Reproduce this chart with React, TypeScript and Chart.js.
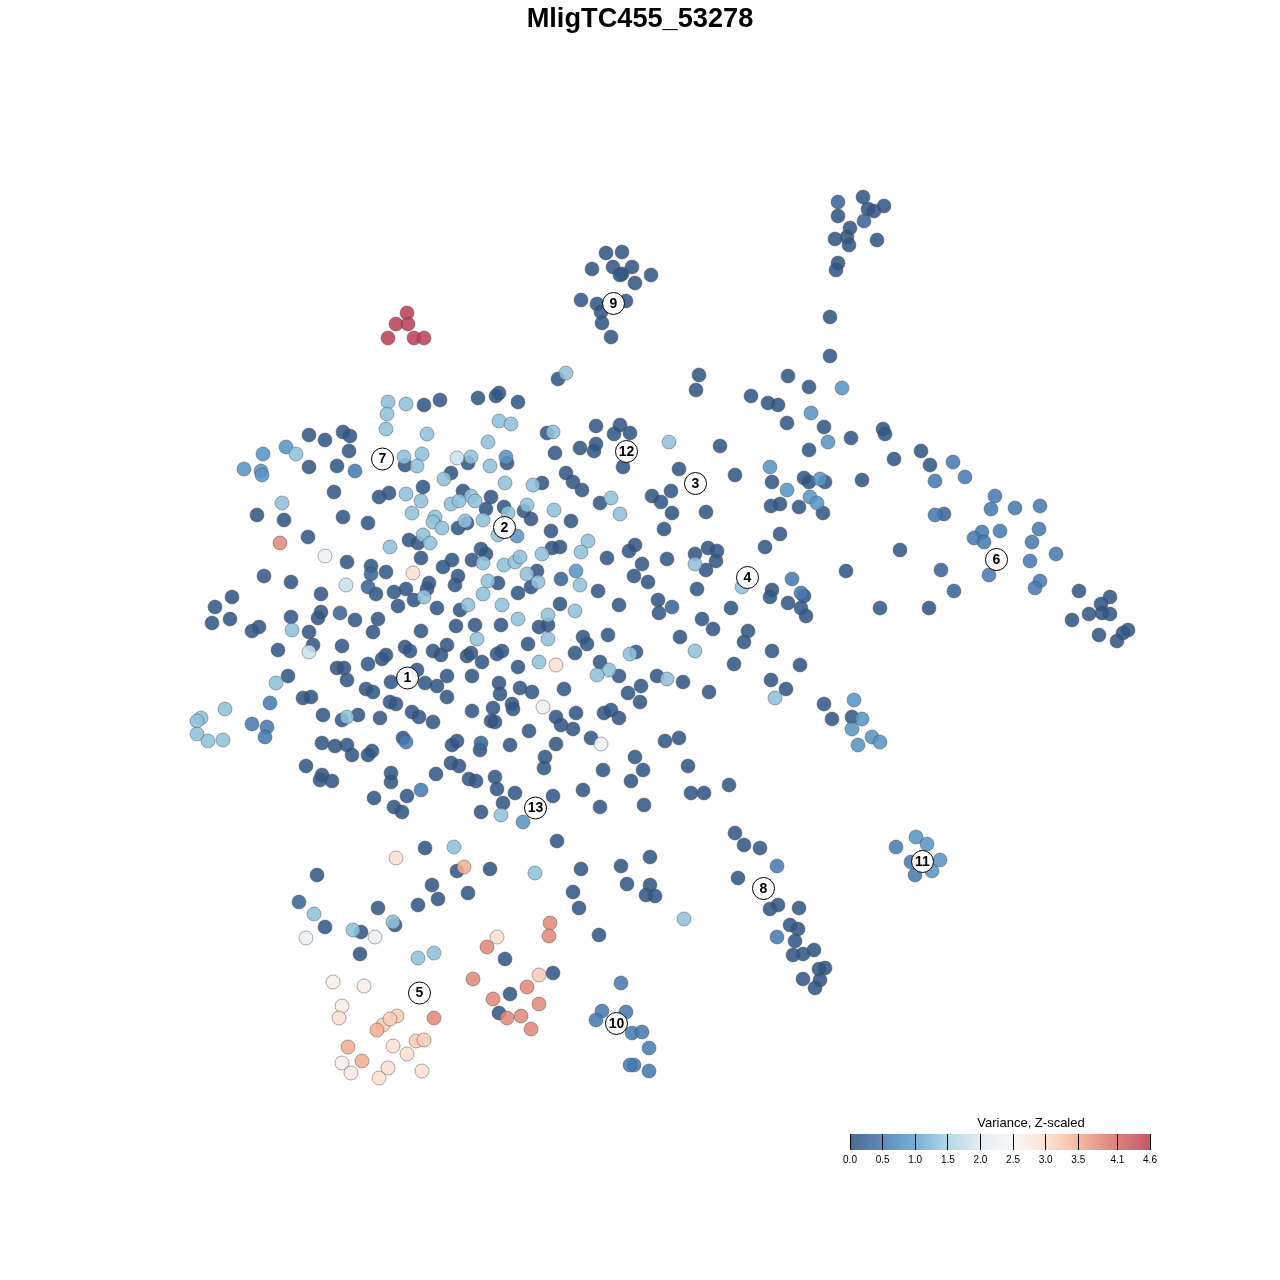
import React, { useEffect, useRef } from "react";
import { Chart, registerables } from "chart.js";

Chart.register(...registerables);

const chartTitle = "MligTC455_53278";
const legendTitle = "Variance, Z-scaled";
const legendTicks = [0, 0.5, 1.0, 1.5, 2.0, 2.5, 3.0, 3.5, 4.1, 4.6];
const legendColors = ["#4a6b92", "#5d8cbe", "#77b0d5", "#b5d8e8", "#e4edf4", "#f7f7f7", "#fde3d5", "#f5b9a0", "#dc807b", "#c4596a"];

// [x, y] readings of the embedding, grouped by their variance value
const value002 = [
  [863,197],[884,206],[868,209],[874,211],[838,216],[850,228],[847,237],[835,239],[849,245],[877,240],[838,263],[836,270],[830,317],[830,356],
  [606,253],[622,252],[592,269],[613,267],[622,274],[632,267],[620,275],[651,275],[635,283],[581,300],[597,304],[626,301],[601,312],[602,323],[611,337],
  [699,375],[696,390],[788,376],[809,387],[751,396],[768,403],[778,405],[787,423],[824,427],[851,438],[883,429],[885,434],[720,446],[809,450],[921,451],[894,459],[930,465],[772,482],[735,475],[804,478],[809,482],[825,482],[862,480],[780,504],[771,506],[799,507],[823,513],[706,512],[780,534],[765,547],[900,550],[695,554],[708,548],[717,551],[716,561],[706,570],[846,571],[1079,591],[772,590],[770,597],[697,589],[804,596],[788,603],[801,608],[806,616],[731,608],[880,608],[929,608],[1110,597],[1101,604],[1102,613],[1110,614],[1089,614],[1072,620],[1099,635],[1128,630],[1123,633],[1117,641],[702,619],[713,629],[748,631],[744,642],[772,651],[734,664],[800,665],[771,680],[786,689],[709,692],[824,704],[832,719],[852,717],
  [424,405],[440,400],[478,398],[496,396],[499,393],[518,402],[558,379],[547,433],[596,426],[620,425],[614,434],[630,433],[405,465],[468,463],[507,463],[451,473],[542,483],[555,453],[580,448],[594,451],[596,444],[623,467],[566,473],[573,482],[582,490],[679,469],[671,491],[652,496],[661,502],[672,513],[664,529],[600,503],[423,487],[463,491],[491,497],[486,509],[504,507],[524,511],[531,519],[571,521],[467,523],[458,528],[551,531],[409,540],[418,543],[421,558],[552,548],[560,547],[481,549],[486,554],[472,560],[452,560],[443,567],[607,558],[635,545],[629,551],[642,564],[634,576],[648,582],[667,559],[458,576],[455,585],[429,583],[427,589],[406,589],[414,600],[398,606],[437,608],[460,610],[498,583],[537,571],[531,587],[518,593],[598,591],[619,605],[658,600],[659,613],[680,637],[560,604],[548,625],[539,627],[501,625],[475,625],[456,626],[421,631],[528,644],[583,637],[587,644],[608,635],[575,653],[600,662],[619,676],[636,652],[657,676],[683,682],[641,686],[628,693],[640,702],[405,647],[410,651],[433,651],[441,655],[447,645],[467,656],[471,653],[497,654],[502,651],[482,662],[518,667],[447,676],[472,676],[499,683],[500,694],[520,688],[532,692],[564,689],[512,704],[513,709],[447,697],[437,686],[425,683],[417,670],[472,711],[493,708],
  [309,435],[325,440],[343,432],[350,436],[349,451],[309,467],[337,466],[334,492],[389,493],[379,497],[257,515],[284,520],[343,517],[368,523],[308,537],[347,562],[371,566],[386,572],[264,576],[291,582],[376,594],[321,594],[232,597],[215,607],[230,619],[212,623],[259,627],[252,631],[291,617],[321,612],[318,618],[355,620],[378,619],[373,632],[309,632],[313,645],[278,650],[342,646],[394,592],[382,659],[386,655],[368,664],[337,668],[344,668],[347,680],[366,689],[373,692],[391,682],[288,676],[303,698],[311,697],[390,702],[396,704],[323,715],[342,720],[358,715],[380,718],[412,712],[419,717],[433,722],[491,721],[495,722],[403,738],[322,743],[335,746],[347,745],[352,755],[372,751],[368,755],[452,745],[457,741],[480,750],[510,745],[306,766],[322,775],[320,780],[332,781],[391,773],[391,782],[436,774],[451,763],[459,766],[469,779],[476,781],[495,777],[497,789],[407,796],[374,798],[394,807],[402,812],[481,812],[503,803],
  [556,717],[561,725],[573,729],[604,713],[611,710],[619,718],[576,713],[591,738],[529,731],[556,744],[545,757],[544,768],[635,757],[665,741],[679,738],[643,770],[631,781],[603,770],[688,766],[729,785],[691,793],[704,793],[583,790],[553,796],[515,793],[644,805],[600,807],[557,841],[425,848],[457,871],[490,869],[317,875],[432,885],[468,893],[438,899],[418,905],[378,908],[325,927],[361,932],[395,925],[360,954],[581,869],[621,866],[650,857],[627,884],[650,885],[646,895],[655,896],[573,892],[579,908],[599,935],[505,959],[553,973],[510,994],[499,1013],
  [735,833],[744,845],[760,848],[738,878],[778,905],[770,909],[799,908],[790,925],[798,929],[795,941],[814,950],[803,954],[793,955],[825,968],[819,969],[803,979],[820,980],[815,988],
];
const value020 = [[838,202],[864,221],[371,574],[340,613],[481,743],[561,579],[672,607],[299,902],[368,587],[944,514],[941,570],[954,591]];
const value048 = [[953,462],[965,477],[935,481],[995,496],[991,509],[1015,508],[1040,506],[935,515],[1000,531],[1039,529],[982,532],[974,538],[984,542],[1032,542],[1056,554],[1030,561],[989,575],[1040,581],[1035,588],[792,579],[801,593],[355,471],[270,703],[252,724],[267,727],[265,737],[421,790],[406,742],[777,866],[777,937],[896,847],[915,875],[911,862],[621,983],[602,1011],[596,1020],[626,1012],[632,1033],[642,1032],[649,1048],[634,1065],[630,1065],[649,1071]];
const value080 = [[842,388],[811,413],[828,442],[770,467],[820,479],[787,490],[810,497],[817,503],[854,700],[862,719],[852,729],[872,737],[880,742],[858,745],[506,457],[517,536],[576,571],[286,447],[263,454],[244,469],[261,471],[262,475],[523,822],[916,837],[927,844],[940,860],[932,871]];
const value130 = [[695,564],[742,587],[695,651],[775,698],[566,373],[388,402],[387,414],[386,429],[406,404],[499,421],[511,424],[427,434],[488,442],[553,432],[669,442],[404,457],[422,454],[417,466],[471,457],[490,466],[444,479],[505,483],[533,485],[611,498],[620,514],[406,494],[421,501],[412,513],[471,496],[451,504],[459,501],[475,501],[508,513],[527,505],[554,510],[483,520],[435,517],[433,522],[442,528],[465,521],[498,535],[423,535],[430,543],[588,541],[581,552],[542,554],[483,563],[504,565],[515,562],[520,557],[424,597],[468,605],[483,594],[488,581],[527,574],[538,582],[580,585],[502,605],[575,611],[548,615],[518,619],[477,639],[548,639],[609,670],[597,675],[630,654],[667,679],[539,662],[296,454],[282,503],[390,547],[292,630],[276,683],[347,717],[201,718],[197,721],[225,709],[197,734],[208,741],[223,740],[501,815],[454,847],[535,873],[314,914],[353,930],[393,922],[418,958],[434,953],[684,919]];
const value180 = [[457,458],[346,585],[309,652]];
const value230 = [[325,556],[543,707],[601,744],[306,938],[375,937]];
const value270 = [[333,982],[364,986],[342,1006],[342,1063],[351,1073]];
const value295 = [[413,573],[556,665],[396,858],[497,937],[339,1018],[393,1046],[407,1054],[388,1068],[379,1078],[422,1071]];
const value320 = [[397,1016],[383,1025],[390,1019],[416,1041],[424,1040],[539,975]];
const value350 = [[464,867],[377,1030],[348,1047],[362,1061]];
const value385 = [[280,543],[550,923],[549,936],[487,947],[473,979],[527,987],[493,999],[539,1004],[507,1018],[521,1016],[531,1029],[434,1018]];
const value460 = [[407,313],[396,324],[408,324],[388,338],[414,338],[424,338]];
const levels = [0.02, 0.2, 0.48, 0.8, 1.3, 1.8, 2.3, 2.7, 2.95, 3.2, 3.5, 3.85, 4.6];
const groups = [value002, value020, value048, value080, value130, value180, value230, value270, value295, value320, value350, value385, value460];

const clusterNames = ["1","2","3","4","5","6","7","8","9","10","11","12","13"];
const clusterX = [407.5,504.5,695.5,747.5,419.5,996.5,382.5,763.5,613.5,616.5,922.5,626.5,535.5];
const clusterY = [678,527.5,483.5,577.5,993,559.5,459,888.5,303.5,1023.5,861.5,451.5,808];
const tinyMark = [[571,640]];

const hex = (h: string) => [1, 3, 5].map((i) => parseInt(h.slice(i, i + 2), 16));
const ALPHA = 0.88;
function pointColor(v: number) {
  let i = 0;
  while (i < legendTicks.length - 2 && v > legendTicks[i + 1]) i++;
  const t = (v - legendTicks[i]) / (legendTicks[i + 1] - legendTicks[i]);
  const a = hex(legendColors[i]);
  const b = hex(legendColors[i + 1]);
  const c = a.map((x, k) => {
    const mixed = x + (b[k] - x) * t;
    return Math.max(0, Math.round((mixed - 255 * (1 - ALPHA)) / ALPHA));
  });
  return `rgba(${c[0]},${c[1]},${c[2]},${ALPHA})`;
}

const TITLE_PAD = 3;
const TITLE_SIZE = 27.2;
const TITLE_H = TITLE_PAD + TITLE_SIZE * 1.2;

const clusterText = {
  id: "clusterText",
  afterDatasetsDraw(chart: any) {
    const { ctx, scales } = chart;
    ctx.save();
    ctx.font = 'bold 14px "Liberation Sans"';
    ctx.fillStyle = "#000";
    ctx.textAlign = "center";
    ctx.textBaseline = "middle";
    clusterNames.forEach((n, i) => {
      ctx.fillText(n, scales.x.getPixelForValue(clusterX[i]), scales.y.getPixelForValue(clusterY[i]) + 0.5);
    });
    ctx.restore();
  },
};

const legendLabel = {
  id: "legendLabel",
  afterDraw(chart: any) {
    const { ctx, chartArea } = chart;
    ctx.save();
    ctx.font = '13px "Liberation Sans"';
    ctx.fillStyle = "#000";
    ctx.textAlign = "center";
    ctx.textBaseline = "middle";
    ctx.fillText(legendTitle, (chartArea.left + chartArea.right) / 2 + 31, chartArea.top - 11);
    ctx.restore();
  },
};

export default function App() {
  const mainRef = useRef<HTMLCanvasElement>(null);
  const barRef = useRef<HTMLCanvasElement>(null);

  useEffect(() => {
    const datasets: any[] = groups.map((g, i) => ({
      label: String(levels[i]),
      data: g.map(([x, y]) => ({ x, y })),
      order: groups.length - i + 1,
      pointRadius: 7,
      pointBackgroundColor: pointColor(levels[i]),
      pointBorderColor: "rgba(70,70,70,0.45)",
      pointBorderWidth: 1,
      showLine: false,
    }));
    datasets.push({
      label: "tiny",
      data: tinyMark.map(([x, y]) => ({ x, y })),
      order: 1,
      pointRadius: 0.5,
      pointBorderWidth: 0,
      pointBackgroundColor: "#2166ac",
      showLine: false,
    });
    datasets.push({
      label: "clusters",
      data: clusterX.map((x, i) => ({ x, y: clusterY[i] })),
      order: 0,
      pointRadius: 11,
      pointBackgroundColor: "rgba(255,255,255,0.9)",
      pointBorderColor: "#000",
      pointBorderWidth: 1,
      showLine: false,
    });

    const main = new Chart(mainRef.current!, {
      type: "scatter",
      data: { datasets },
      plugins: [clusterText],
      options: {
        responsive: false,
        animation: false,
        layout: { padding: 0, autoPadding: false },
        plugins: {
          legend: { display: false },
          tooltip: { enabled: false },
          title: {
            display: true,
            text: chartTitle,
            color: "#000",
            font: { family: '"Liberation Sans"', size: TITLE_SIZE, weight: "bold", lineHeight: 1.2 },
            padding: { top: TITLE_PAD, bottom: 0 },
          },
        },
        scales: {
          x: { type: "linear", min: 0, max: 1280, display: false },
          y: { type: "linear", min: TITLE_H, max: 1280, reverse: true, display: false },
        },
      },
    } as any);

    const bar = new Chart(barRef.current!, {
      type: "bar",
      data: {
        labels: ["variance"],
        datasets: [{
          data: [[legendTicks[0], legendTicks[legendTicks.length - 1]]],
          barPercentage: 1,
          categoryPercentage: 1,
          backgroundColor: (c: any) => {
            const area = c.chart.chartArea;
            if (!area) return legendColors[0];
            const g = c.chart.ctx.createLinearGradient(area.left, 0, area.right, 0);
            const top = legendTicks[legendTicks.length - 1];
            legendTicks.forEach((t, i) => g.addColorStop(t / top, legendColors[i]));
            return g;
          },
        }],
      },
      plugins: [legendLabel],
      options: {
        indexAxis: "y",
        responsive: false,
        animation: false,
        layout: { padding: { left: 50, right: 50, top: 29, bottom: 9 } },
        plugins: { legend: { display: false }, tooltip: { enabled: false } },
        scales: {
          y: { display: false },
          x: {
            type: "linear",
            min: 0,
            max: 4.6,
            afterBuildTicks: (s: any) => { s.ticks = legendTicks.map((value) => ({ value })); },
            border: { display: false },
            grid: { color: "#000", lineWidth: 1, z: 1, drawTicks: false, offset: false },
            ticks: {
              autoSkip: false,
              maxRotation: 0,
              padding: 4,
              color: "#000",
              font: { family: '"Liberation Sans"', size: 10 },
              callback: (v: any) => Number(v).toFixed(1),
            },
          },
        },
      },
    } as any);

    return () => { main.destroy(); bar.destroy(); };
  }, []);

  return (
    <div>
      <canvas ref={mainRef} width={1280} height={1280} style={{ position: "absolute", left: 0, top: 0, display: "block" }} />
      <canvas ref={barRef} width={400} height={70} style={{ position: "absolute", left: 800, top: 1105, display: "block" }} />
    </div>
  );
}
